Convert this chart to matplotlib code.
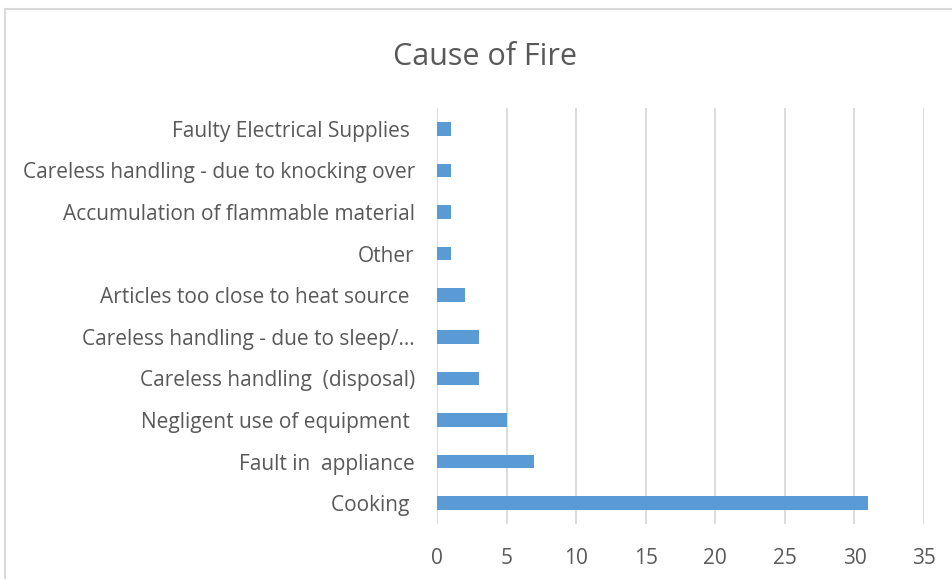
import matplotlib.pyplot as plt
from matplotlib.lines import Line2D

# data, bottom to top as drawn
causes = ['Cooking ', 'Fault in  appliance', 'Negligent use of equipment ',
          'Careless handling  (disposal)', 'Careless handling - due to sleep/\u2026',
          'Articles too close to heat source ', 'Other',
          'Accumulation of flammable material', 'Careless handling - due to knocking over',
          'Faulty Electrical Supplies ']
counts = [31, 7, 5, 3, 3, 2, 1, 1, 1, 1]
xticks = [0, 5, 10, 15, 20, 25, 30, 35]

plt.rcParams['font.family'] = ['Open Sans', 'DejaVu Sans']
txt = '#595959'
grid = '#D9D9D9'

fig = plt.figure(figsize=(9.53, 5.79), dpi=100)
ax = fig.add_axes([0.4586, 0.095, 0.9696 - 0.4586, 0.8135 - 0.095])

ax.barh(range(len(causes)), counts, height=0.33, color='#5B9BD5', zorder=3)
ax.set_xlim(0, 35)
ax.set_ylim(-0.5, len(causes) - 0.5)
ax.set_xticks(xticks)
ax.set_yticks(range(len(causes)))
ax.set_yticklabels(causes)
ax.tick_params(axis='both', length=0, colors=txt, labelsize=15)
ax.tick_params(axis='y', pad=16)
ax.tick_params(axis='x', pad=17)
for s in ax.spines.values():
    s.set_visible(False)
ax.xaxis.grid(True, color=grid, linewidth=1.3, zorder=0)

fig.text(0.509, 1 - 57 / 579, 'Cause of Fire', ha='center', va='center',
         fontsize=22, color=txt)

# chart border (only top and left visible in the crop)
fig.add_artist(Line2D([5 / 953, 1], [1 - 9 / 579] * 2, color='#D9D9D9', lw=1.5))
fig.add_artist(Line2D([5 / 953] * 2, [0, 1 - 9 / 579], color='#D9D9D9', lw=1.5))

fig.savefig('out.png', dpi=100)
